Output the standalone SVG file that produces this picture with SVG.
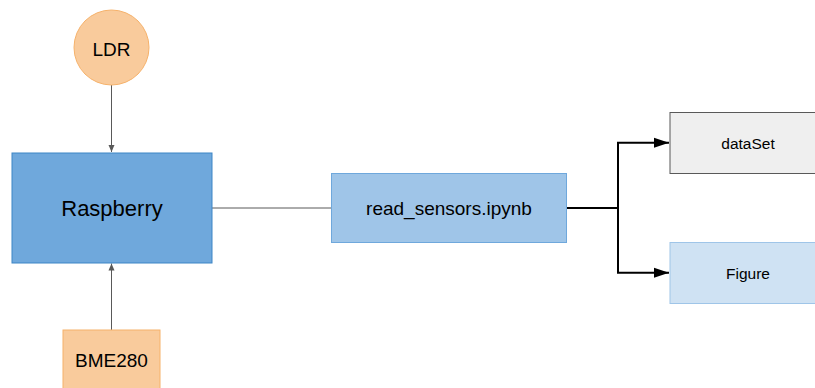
<svg xmlns="http://www.w3.org/2000/svg" width="815" height="388" viewBox="0 0 815 388">
<defs>
<marker id="ga" markerWidth="8" markerHeight="8" refX="7" refY="4" orient="auto" markerUnits="userSpaceOnUse"><path d="M0,1 L7,4 L0,7 Z" fill="#595959"/></marker>
<marker id="ba" markerWidth="16" markerHeight="12" refX="15" refY="6" orient="auto" markerUnits="userSpaceOnUse"><path d="M0,1 L15,6 L0,11 Z" fill="#000"/></marker>
</defs>
<style>
text{font-family:"Liberation Sans",Arial,sans-serif;fill:#000;text-anchor:middle;dominant-baseline:central}
.g{stroke:#595959;stroke-width:1;fill:none}
.b{stroke:#000;stroke-width:2;fill:none}
</style>
<rect width="815" height="388" fill="#fff"/>
<g id="connectors">
<line class="g" x1="111.5" y1="85" x2="111.5" y2="152" marker-end="url(#ga)"/>
<line class="g" x1="111.5" y1="330" x2="111.5" y2="263.5" marker-end="url(#ga)"/>
<line class="g" x1="212" y1="208" x2="331" y2="208"/>
<path class="b" d="M567,208 H618 M618,142.7 V272.7 M617,142.7 H669" marker-end="url(#ba)"/>
<path class="b" d="M617,272.7 H669" marker-end="url(#ba)"/>
</g>
<g id="ldr"><circle cx="111.5" cy="47.5" r="37.5" fill="#f9cb9c" stroke="#f6b26b"/><text x="111.5" y="49" font-size="19">LDR</text></g>
<g id="raspberry"><rect x="12" y="153" width="200" height="110" fill="#6fa8dc" stroke="#3d85c6"/><text x="112" y="208" font-size="22">Raspberry</text></g>
<g id="bme280"><rect x="63" y="330" width="97" height="70" fill="#f9cb9c" stroke="#f6b26b"/><text x="111.5" y="360" font-size="19">BME280</text></g>
<g id="read_sensors"><rect x="331.5" y="173.5" width="235" height="69" fill="#9fc5e8" stroke="#6fa8dc"/><text x="449" y="208" font-size="19">read_sensors.ipynb</text></g>
<g id="dataset"><rect x="670" y="112.5" width="156" height="61" fill="#efefef" stroke="#595959"/><text x="748" y="143" font-size="15.5">dataSet</text></g>
<g id="figure"><rect x="670" y="242.5" width="156" height="61" fill="#cfe2f3" stroke="#9fc5e8"/><text x="748" y="273" font-size="15.5">Figure</text></g>
</svg>
